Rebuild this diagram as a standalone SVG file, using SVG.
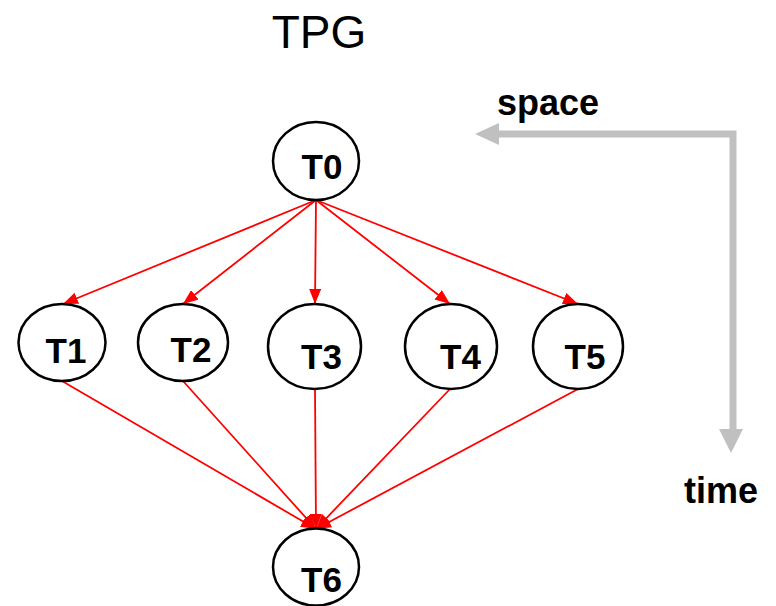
<svg xmlns="http://www.w3.org/2000/svg" width="776" height="606" viewBox="0 0 776 606">
<style>
.node ellipse{fill:#fff;stroke:#000;stroke-width:2.5}
.node text{font-family:"Liberation Sans",Arial,sans-serif;font-weight:bold;font-size:35px;fill:#000;text-anchor:middle}
.edge{stroke:#ff0000;stroke-width:1.8;fill:none;marker-end:url(#ah)}
.lbl{font-family:"Liberation Sans",Arial,sans-serif;fill:#000}
</style>
<defs>
<marker id="ah" markerUnits="userSpaceOnUse" viewBox="0 0 15 12" refX="15" refY="6" markerWidth="15" markerHeight="12" orient="auto">
<path d="M0,0 L15,6 L0,12 z" fill="#ff0000"/>
</marker>
</defs>
<rect width="776" height="606" fill="#fff"/>
<text class="lbl" x="319" y="48" font-size="46" text-anchor="middle">TPG</text>
<g id="axes">
<polyline points="733,431 733,134 497,134" fill="none" stroke="#c0c0c0" stroke-width="7" stroke-linejoin="miter"/>
<path d="M475,134 L499,123 L499,145 z" fill="#c0c0c0"/>
<path d="M731,453 L719,429 L743,429 z" fill="#c0c0c0"/>
</g>
<text class="lbl" x="548" y="115" font-size="36" font-weight="bold" text-anchor="middle">space</text>
<text class="lbl" x="721" y="503" font-size="36" font-weight="bold" text-anchor="middle">time</text>
<g id="connectors">
<line class="edge" x1="316" y1="200" x2="63" y2="304"/>
<line class="edge" x1="316" y1="200" x2="183" y2="304"/>
<line class="edge" x1="316" y1="200" x2="315" y2="304"/>
<line class="edge" x1="316" y1="200" x2="450" y2="304"/>
<line class="edge" x1="316" y1="200" x2="578" y2="304"/>
<line class="edge" x1="62" y1="381" x2="316" y2="529"/>
<line class="edge" x1="183" y1="381" x2="316" y2="529"/>
<line class="edge" x1="315" y1="389" x2="316" y2="529"/>
<line class="edge" x1="450" y1="389" x2="316" y2="529"/>
<line class="edge" x1="578" y1="389" x2="316" y2="529"/>
</g>
<g id="T0" class="node"><ellipse cx="316" cy="161" rx="43" ry="39"/><text x="322" y="179">T0</text></g>
<g id="T1" class="node"><ellipse cx="62" cy="342.5" rx="43.5" ry="38.5"/><text x="66" y="363">T1</text></g>
<g id="T2" class="node"><ellipse cx="183" cy="342.5" rx="45" ry="38.5"/><text x="191" y="362">T2</text></g>
<g id="T3" class="node"><ellipse cx="314.5" cy="346.5" rx="46.5" ry="42.5"/><text x="321.5" y="369">T3</text></g>
<g id="T4" class="node"><ellipse cx="451" cy="346.5" rx="46" ry="42.5"/><text x="460.5" y="369">T4</text></g>
<g id="T5" class="node"><ellipse cx="578" cy="346.5" rx="45" ry="42.5"/><text x="585" y="369">T5</text></g>
<g id="T6" class="node"><ellipse cx="316" cy="567" rx="43" ry="38.5"/><text x="321.5" y="592">T6</text></g>
</svg>
